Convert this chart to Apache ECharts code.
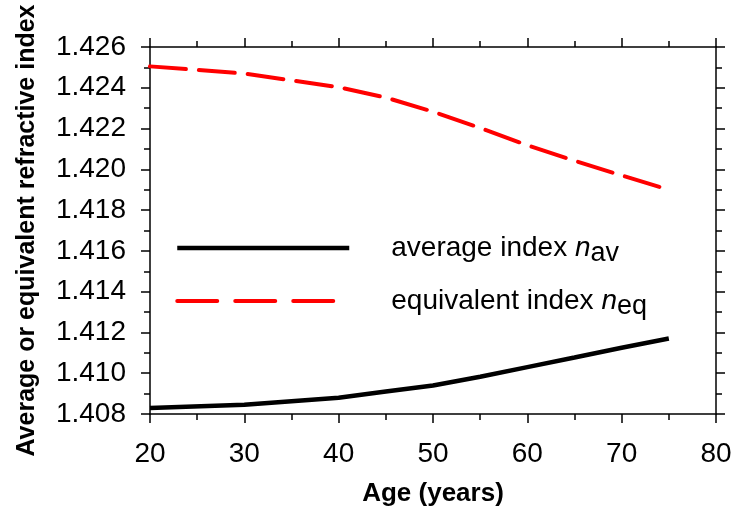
<!DOCTYPE html>
<html>
<head>
<meta charset="utf-8">
<script src="https://cdn.jsdelivr.net/npm/echarts@6/dist/echarts.min.js"></script>
<style>html,body{margin:0;padding:0;background:#fff}#c{width:737px;height:514px}</style>
</head>
<body>
<div id="c"></div>
<script>
var ages = [20, 30, 40, 45, 50, 55, 60, 65, 70, 75];
var nAv = [1.4083, 1.40845, 1.4088, 1.4091, 1.4094, 1.40983, 1.4103, 1.41077, 1.41125, 1.4117];
var nEq = [1.42505, 1.4247, 1.42403, 1.42352, 1.42283, 1.42203, 1.42118, 1.42042, 1.4197, 1.4190];
var seriesNames = ['average index n_av', 'equivalent index n_eq'];
var xTitle = 'Age (years)';
var yTitle = 'Average or equivalent refractive index';

function pairs(xs, ys) { return xs.map(function (x, i) { return [x, ys[i]]; }); }

var FONT = '"Liberation Sans", Arial, sans-serif';
var chart = echarts.init(document.getElementById('c'), null, { renderer: 'canvas' });

var axisCommonX = {
  type: 'value', min: 20, max: 80, interval: 10,
  axisLine: { show: true, onZero: false, lineStyle: { color: '#000', width: 1.5 } },
  axisTick: { show: true, inside: false, length: 9, lineStyle: { color: '#000', width: 1.5 } },
  minorTick: { show: true, splitNumber: 2, length: 6, lineStyle: { color: '#000', width: 1.5 } },
  splitLine: { show: false }
};
var axisCommonY = {
  type: 'value', min: 1.408, max: 1.426, interval: 0.002,
  axisLine: { show: true, onZero: false, lineStyle: { color: '#000', width: 1.5 } },
  axisTick: { show: true, inside: false, length: 9, lineStyle: { color: '#000', width: 1.5 } },
  minorTick: { show: true, splitNumber: 2, length: 6, lineStyle: { color: '#000', width: 1.5 } },
  splitLine: { show: false }
};

var legendRich = {
  t: { fontSize: 28, fontFamily: FONT, color: '#000', padding: [0, 0, 0, 37] },
  n: { fontSize: 28, fontFamily: FONT, color: '#000', fontStyle: 'italic' },
  s: { fontSize: 27, fontFamily: FONT, color: '#000', padding: [11, 0, 0, 0] }
};

chart.setOption({
  animation: false,
  backgroundColor: '#fff',
  grid: { left: 150, right: 21, top: 47, bottom: 100, containLabel: false, outerBoundsMode: 'none' },
  xAxis: [
    Object.assign({}, axisCommonX, {
      position: 'bottom',
      axisLabel: { show: true, margin: 26, fontSize: 28, fontFamily: FONT, color: '#000' },
      name: xTitle, nameLocation: 'middle', nameGap: 67,
      nameTextStyle: { fontSize: 26, fontWeight: 'bold', fontFamily: FONT, color: '#000' }
    }),
    Object.assign({}, axisCommonX, { position: 'top', axisLabel: { show: false } })
  ],
  yAxis: [
    Object.assign({}, axisCommonY, {
      position: 'left',
      axisLabel: { show: true, margin: 24, fontSize: 28, fontFamily: FONT, color: '#000',
        formatter: function (v) { return v.toFixed(3); } },
      name: yTitle, nameLocation: 'middle', nameGap: 110, nameRotate: 90,
      nameTextStyle: { fontSize: 25, fontWeight: 'bold', fontFamily: FONT, color: '#000' }
    }),
    Object.assign({}, axisCommonY, { position: 'right', axisLabel: { show: false } })
  ],
  legend: {
    show: true,
    orient: 'vertical', left: 175, top: 234,
    padding: 0,
    itemWidth: 172, itemHeight: 14, itemGap: 20,
    selectedMode: false,
    itemStyle: { opacity: 0 },
    textStyle: { fontSize: 28, fontFamily: FONT, color: '#000', rich: legendRich },
    formatter: function (name) {
      var parts = name.split(' n_');
      return '{t|' + parts[0] + ' }{n|n}{s|' + parts[1] + '}';
    },
    data: [
      { name: seriesNames[0], itemStyle: { opacity: 0 }, lineStyle: { color: '#000', width: 4.5, type: 'solid' } },
      { name: seriesNames[1], itemStyle: { opacity: 0 }, lineStyle: { color: '#f00', width: 4, type: [40, 18] } }
    ]
  },
  series: [
    {
      name: seriesNames[0], type: 'line', xAxisIndex: 0, yAxisIndex: 0,
      data: pairs(ages, nAv), symbol: 'none',
      lineStyle: { color: '#000', width: 4.5 }, itemStyle: { color: '#000' }
    },
    {
      name: seriesNames[1], type: 'line', xAxisIndex: 0, yAxisIndex: 0,
      data: pairs(ages, nEq), symbol: 'none',
      lineStyle: { color: '#f00', width: 4, type: [36, 13], cap: 'round' }, itemStyle: { color: '#f00' }
    }
  ]
});
</script>
</body>
</html>
